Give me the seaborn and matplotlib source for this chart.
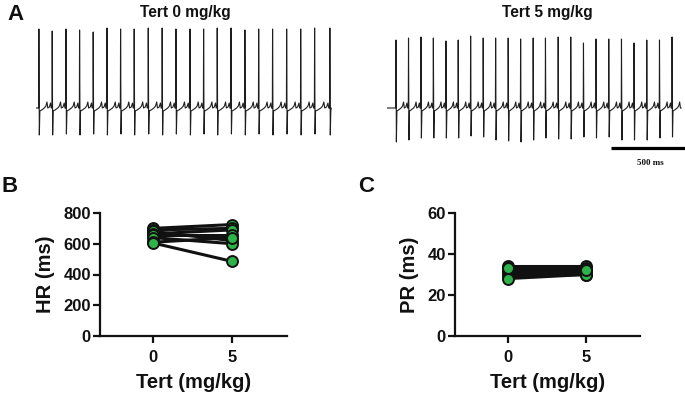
import numpy as np
import pandas as pd
import seaborn as sns
import matplotlib.pyplot as plt

# ---------------- data ----------------
# ECG beat times (ms) and R-peak / S-trough amplitudes (arbitrary units)
ecg0_beats = [20, 110, 203, 295, 387, 480, 572, 664, 759, 853, 946, 1041,
              1133, 1225, 1318, 1412, 1505, 1599, 1694, 1789, 1883, 1986]
ecg0_top = [79, 77, 79, 78, 76, 80, 79, 79, 80, 80, 79, 79, 79, 80, 80, 78,
            79, 79, 79, 79, 80, 80]
ecg0_bottom = [-27, -27, -26, -27, -26, -27, -26, -27, -26, -27, -26, -27,
               -26, -27, -26, -27, -26, -27, -26, -27, -26, -27]

ecg5_beats = [61, 146, 230, 314, 399, 482, 566, 651, 735, 820, 904, 989, 1072,
              1158, 1243, 1329, 1414, 1500, 1586, 1671, 1757, 1843, 1928]
ecg5_top = [68, 70, 71, 70, 67, 68, 72, 70, 70, 70, 69, 70, 70, 71, 71, 65,
            69, 69, 69, 65, 68, 68, 71]
ecg5_bottom = [-34, -32, -30, -30, -30, -30, -28, -29, -32, -33, -34, -32, -30,
               -31, -31, -29, -30, -29, -32, -32, -32, -30, -29]

doses = [0, 5]
dose_ticks = ["0", "5"]
hr_0 = [700, 690, 680, 665, 655, 640, 610, 605]
hr_5 = [725, 700, 620, 690, 655, 600, 640, 485]
hr_ticks = [0, 200, 400, 600, 800]
pr_0 = [34, 33, 32, 31, 30, 29, 28, 33]
pr_5 = [34, 33, 32, 31, 31, 30, 30, 32]
pr_ticks = [0, 20, 40, 60]

green = "#2db34a"
ink = "#111111"

# ---------------- style ----------------
sns.set_theme(style="ticks")
plt.rcParams["font.family"] = ["Liberation Sans", "DejaVu Sans"]
plt.rcParams["font.weight"] = "bold"
plt.rcParams["text.color"] = ink
plt.rcParams["axes.labelcolor"] = ink
plt.rcParams["xtick.color"] = ink
plt.rcParams["ytick.color"] = ink

fig = plt.figure(figsize=(6.85, 3.95), dpi=100)
W, H = 685, 395


def px_axes(l, t, r, b):
    return fig.add_axes([l / W, 1 - b / H, (r - l) / W, (b - t) / H])


def ecg_frame(beats, tops, bottoms, t_end):
    xs, ys = [0.0], [0.0]
    for i, t in enumerate(beats):
        rr = (beats[i + 1] - t) if i + 1 < len(beats) else (t - beats[i - 1])
        seg = [(t - 2, 0), (t - 0.5, tops[i]), (t + 2.5, bottoms[i]), (t + 6, -3),
               (t + 0.2 * rr, -2), (t + 0.4 * rr, 0), (t + 0.52 * rr, 2),
               (t + 0.6 * rr, 6), (t + 0.66 * rr, 0), (t + 0.78 * rr, 1),
               (t + 0.87 * rr, 5), (t + 0.92 * rr, 0)]
        for x, y in seg:
            if 0 <= x <= t_end:
                xs.append(x)
                ys.append(y)
    xs.append(t_end)
    ys.append(0)
    return pd.DataFrame({"time": xs, "amp": ys})


def style_ecg(ax, xmax):
    ax.set_xlim(0, xmax)
    ax.set_ylim(-42, 88)
    ax.axis("off")


# ---- Panel A: ECG traces ----
axA0 = px_axes(36, 20, 332, 150)
df0 = ecg_frame(ecg0_beats, ecg0_top, ecg0_bottom, 1995)
sns.lineplot(data=df0, x="time", y="amp", sort=False, estimator=None,
             color="#1e1e1e", lw=0.8, ax=axA0)
style_ecg(axA0, 2000)

axA5 = px_axes(387, 20, 685, 150)
df5 = ecg_frame(ecg5_beats, ecg5_top, ecg5_bottom, 1990)
sns.lineplot(data=df5, x="time", y="amp", sort=False, estimator=None,
             color="#1e1e1e", lw=0.8, ax=axA5)
style_ecg(axA5, 2015)
axA5.plot([1515, 2015], [-40, -40], color="black", lw=2.3,
          clip_on=False, solid_capstyle="butt")

fig.text(185 / W, 1 - 12 / H, "Tert 0 mg/kg", ha="center", va="center",
         fontsize=11.2, fontweight="bold")
fig.text(547 / W, 1 - 12 / H, "Tert 5 mg/kg", ha="center", va="center",
         fontsize=11.2, fontweight="bold")
fig.text(650 / W, 1 - 163 / H, "500 ms", ha="center", va="center",
         fontsize=6.5, fontweight="bold", family=["Liberation Serif", "DejaVu Serif"])

fig.text(15 / W, 1 - 14 / H, "A", ha="center", va="center",
         fontsize=16, fontweight="bold")
fig.text(10 / W, 1 - 186 / H, "B", ha="center", va="center",
         fontsize=16, fontweight="bold")
fig.text(366 / W, 1 - 186 / H, "C", ha="center", va="center",
         fontsize=16, fontweight="bold")


# ---- Panels B and C ----
def before_after(ax, v0, v5, ticks, ylabel):
    n = len(v0)
    df = pd.DataFrame({
        "subject": list(range(n)) * 2,
        "dose": [doses[0]] * n + [doses[1]] * n,
        "value": list(v0) + list(v5),
    })
    sns.lineplot(data=df, x="dose", y="value", units="subject", estimator=None,
                 color=ink, lw=2.2, ax=ax, legend=False, zorder=2)
    sns.scatterplot(data=df, x="dose", y="value", color=green, edgecolor=ink,
                    linewidth=1.4, s=62, ax=ax, zorder=3, legend=False, clip_on=False)
    ax.set_xlim(-3.35, 8.45)
    ax.set_ylim(ticks[0], ticks[-1])
    ax.set_xticks(doses)
    ax.set_xticklabels(dose_ticks)
    ax.set_yticks(ticks)
    ax.set_yticklabels([str(t) for t in ticks])
    sns.despine(ax=ax)
    for s in ["left", "bottom"]:
        ax.spines[s].set_linewidth(1.6)
        ax.spines[s].set_color(ink)
    ax.tick_params(axis="both", width=1.6, length=5, color=ink,
                   labelsize=12, labelcolor=ink)
    ax.tick_params(axis="x", pad=5)
    ax.tick_params(axis="y", pad=1.5)
    for lab in ax.get_xticklabels() + ax.get_yticklabels():
        lab.set_fontweight("bold")
    ax.set_xlabel("Tert (mg/kg)", fontsize=14.5, fontweight="bold",
                  color=ink, labelpad=6)
    ax.set_ylabel(ylabel, fontsize=14.5, fontweight="bold",
                  color=ink, labelpad=6)
    ax.set_facecolor("none")


axB = px_axes(100, 213, 287, 336)
before_after(axB, hr_0, hr_5, hr_ticks, "HR (ms)")

axC = px_axes(455, 213, 640, 336)
before_after(axC, pr_0, pr_5, pr_ticks, "PR (ms)")

fig.savefig("out.png", dpi=100)
